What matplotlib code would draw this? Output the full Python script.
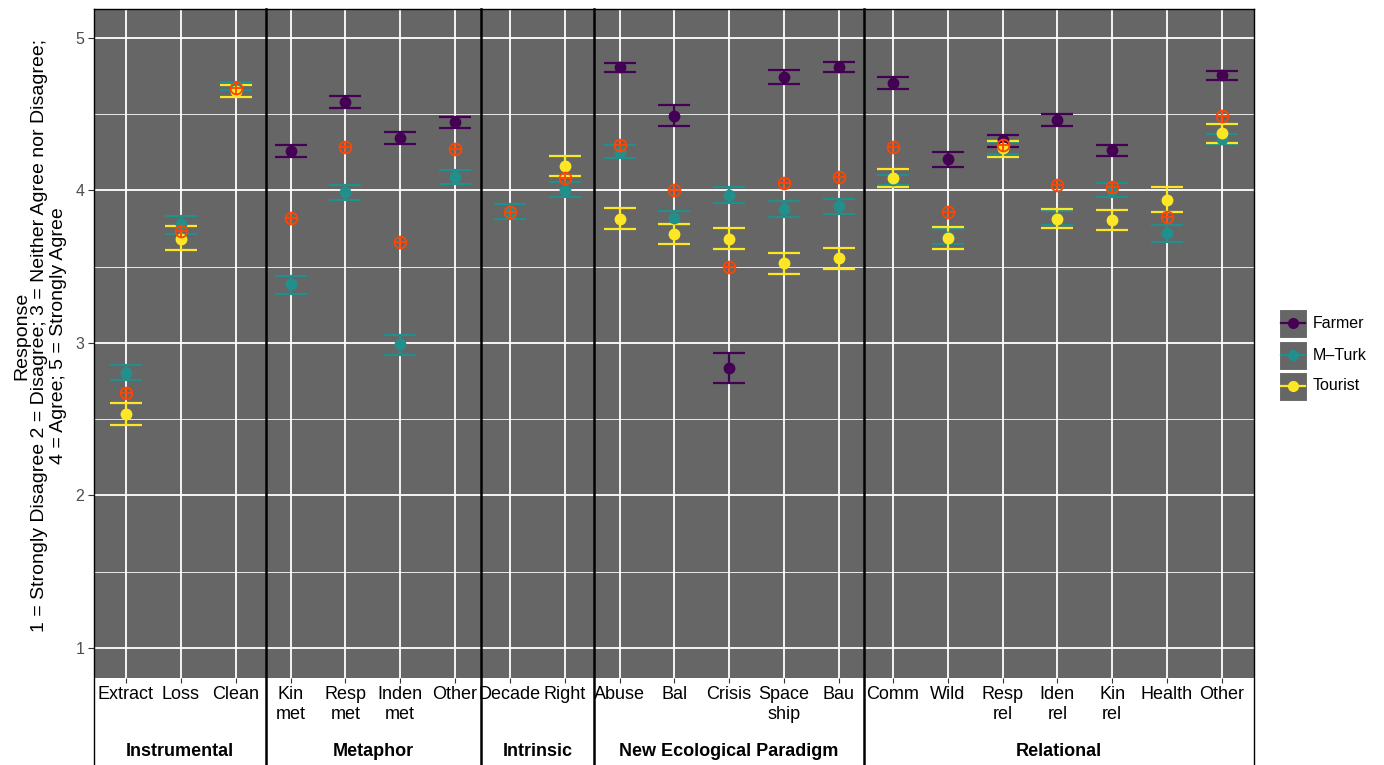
import numpy as np
import matplotlib
matplotlib.use("Agg")
import matplotlib.pyplot as plt
from matplotlib.lines import Line2D
from matplotlib.patches import Rectangle

plt.rcParams['font.family'] = ['Liberation Sans', 'DejaVu Sans']

# ---------------- data ----------------
groups = ["Instrumental", "Metaphor", "Intrinsic", "New Ecological Paradigm", "Relational"]
group_sizes = [3, 4, 2, 5, 7]
categories = ["Extract", "Loss", "Clean",
              "Kin\nmet", "Resp\nmet", "Inden\nmet", "Other",
              "Decade", "Right",
              "Abuse", "Bal", "Crisis", "Space\nship", "Bau",
              "Comm", "Wild", "Resp\nrel", "Iden\nrel", "Kin\nrel", "Health", "Other"]
nan = np.nan
farmer_mean = [nan, nan, nan, 4.260, 4.583, 4.345, 4.448, nan, nan,
               4.809, 4.489, 2.836, 4.744, 4.812,
               4.706, 4.205, 4.330, 4.462, 4.264, nan, 4.756]
farmer_lo = [nan, nan, nan, 4.222, 4.542, 4.304, 4.410, nan, nan,
             4.780, 4.424, 2.736, 4.700, 4.780,
             4.668, 4.157, 4.288, 4.421, 4.225, nan, 4.724]
farmer_hi = [nan, nan, nan, 4.301, 4.618, 4.386, 4.483, nan, nan,
             4.838, 4.559, 2.935, 4.789, 4.841,
             4.742, 4.255, 4.362, 4.504, 4.301, nan, 4.786]
mturk_mean = [2.806, 3.783, 4.680, 3.385, 3.987, 2.991, 4.090, 3.862, 4.004,
              4.254, 3.819, 3.972, 3.881, 3.899,
              4.066, 3.697, 4.280, 3.820, 4.000, 3.718, 4.338]
mturk_lo = [2.759, 3.717, 4.658, 3.323, 3.937, 2.921, 4.043, 3.812, 3.956,
            4.216, 3.775, 3.916, 3.828, 3.846,
            4.035, 3.648, 4.240, 3.775, 3.956, 3.664, 4.303]
mturk_hi = [2.856, 3.831, 4.713, 3.438, 4.034, 3.053, 4.137, 3.913, 4.057,
            4.295, 3.863, 4.022, 3.928, 3.946,
            4.100, 3.747, 4.320, 3.866, 4.046, 3.771, 4.373]
tourist_mean = [2.533, 3.684, 4.651, nan, nan, nan, nan, nan, 4.159,
                3.816, 3.714, 3.684, 3.523, 3.555,
                4.085, 3.688, 4.280, 3.814, 3.806, 3.939, 4.376]
tourist_lo = [2.463, 3.612, 4.616, nan, nan, nan, nan, nan, 4.094,
              3.746, 3.649, 3.614, 3.449, 3.482,
              4.026, 3.616, 4.218, 3.751, 3.740, 3.858, 4.314]
tourist_hi = [2.607, 3.765, 4.691, nan, nan, nan, nan, nan, 4.223,
              3.884, 3.778, 3.755, 3.590, 3.623,
              4.144, 3.760, 4.325, 3.876, 3.873, 4.020, 4.434]
overall_mean = [2.671, 3.732, 4.669, 3.822, 4.283, 3.664, 4.269, 3.862, 4.083,
                4.295, 4.004, 3.496, 4.051, 4.090,
                4.282, 3.862, 4.299, 4.033, 4.022, 3.828, 4.490]
series_names = ["Farmer", "M\u2013Turk", "Tourist"]
series_colors = ["#440154", "#21908C", "#FDE725"]
overall_color = "#FF4500"
y_ticks = [1, 2, 3, 4, 5]
y_label = ("Response\n1 = Strongly Disagree 2 = Disagree; 3 = Neither Agree nor Disagree;\n"
           "4 = Agree; 5 = Strongly Agree")

# ---------------- layout ----------------
W, H = 1384, 765
fig = plt.figure(figsize=(W / 100, H / 100), dpi=100)
fig.patch.set_facecolor("white")

panel_edges_px = [94, 266, 481, 594, 864, 1254]
first_tick_px = [126, 290.5, 510, 619.5, 893]
spacing_px = 54.8
top_px, bot_px = 9, 678
ylim = (0.803, 5.190)
PANEL_BG = "#666666"

series = [
    (farmer_mean, farmer_lo, farmer_hi),
    (mturk_mean, mturk_lo, mturk_hi),
    (tourist_mean, tourist_lo, tourist_hi),
]

start = 0
for gi, (gname, n) in enumerate(zip(groups, group_sizes)):
    l, r = panel_edges_px[gi], panel_edges_px[gi + 1]
    ax = fig.add_axes([l / W, 1 - bot_px / H, (r - l) / W, (bot_px - top_px) / H])
    ax.set_facecolor(PANEL_BG)
    f0 = first_tick_px[gi]
    ax.set_xlim((l - f0) / spacing_px, (r - f0) / spacing_px)
    ax.set_ylim(*ylim)
    xs = np.arange(n)
    sl = slice(start, start + n)

    # grid
    ax.set_yticks(y_ticks)
    ax.set_yticks([1.5, 2.5, 3.5, 4.5], minor=True)
    ax.set_xticks(xs)
    ax.set_xticklabels(categories[sl], fontsize=13, color="black", linespacing=1.25)
    ax.grid(which="major", color="white", linewidth=1.3)
    ax.grid(which="minor", axis="y", color="white", linewidth=0.6)
    ax.set_axisbelow(True)
    ax.tick_params(axis="x", which="both", length=3.5, width=0.8, color="#333333", pad=2)
    ax.tick_params(axis="y", which="minor", length=0)
    if gi == 0:
        ax.set_yticklabels([str(t) for t in y_ticks], fontsize=11.5, color="#4D4D4D")
        ax.tick_params(axis="y", which="major", length=4, width=0.8, color="#333333", pad=3)
    else:
        ax.tick_params(axis="y", which="major", length=0, labelleft=False)
    for s in ["left", "right", "bottom"]:
        ax.spines[s].set_visible(False)
    ax.spines["top"].set_color("black")
    ax.spines["top"].set_linewidth(1.0)

    # series with error bars
    for (m, lo, hi), c in zip(series, series_colors):
        m = np.array(m[sl], float)
        lo = np.array(lo[sl], float)
        hi = np.array(hi[sl], float)
        ok = ~np.isnan(m)
        if not ok.any():
            continue
        ax.errorbar(xs[ok], m[ok], yerr=[m[ok] - lo[ok], hi[ok] - m[ok]],
                    fmt="o", color=c, ms=7.5, elinewidth=1.6, capsize=11.5,
                    capthick=1.6, zorder=3)
    om = np.array(overall_mean[sl], float)
    ax.plot(xs, om, "o", mfc="none", mec=overall_color, ms=8.5, mew=1.3, zorder=4)
    ax.plot(xs, om, "+", color=overall_color, ms=8.5, mew=1.3, zorder=4)

    # strip label
    cx = (l + r) / 2
    fig.text(cx / W, 1 - 752 / H, gname, ha="center", va="center",
             fontsize=13, fontweight="bold")
    start += n

# panel separators running through label area
for i, x in enumerate(panel_edges_px):
    lw = 1.0 if i in (0, len(panel_edges_px) - 1) else 1.8
    fig.add_artist(Line2D([x / W, x / W], [1 - top_px / H, 0], color="black",
                          lw=lw, transform=fig.transFigure))

# y label
fig.text(40 / W, 1 - ((top_px + bot_px) / 2 - 8) / H, y_label, rotation=90,
         ha="center", va="center", multialignment="center", fontsize=14,
         linespacing=1.1)

# legend (manual, ggplot style keys)
leg_y = [323, 355, 386]
for name, c, yy in zip(series_names, series_colors, leg_y):
    fig.add_artist(Rectangle(((1279) / W, 1 - (yy + 14.5) / H), 28 / W, 29 / H,
                             facecolor=PANEL_BG, edgecolor="white", lw=0.8,
                             transform=fig.transFigure))
    fig.add_artist(Line2D([1281 / W, 1305 / W], [1 - yy / H] * 2, color=c, lw=1.6,
                          transform=fig.transFigure))
    fig.add_artist(Line2D([1293 / W], [1 - yy / H], color=c, marker="o", ms=7,
                          transform=fig.transFigure))
    fig.text(1313 / W, 1 - yy / H, name, ha="left", va="center", fontsize=11.5)

fig.savefig("out.png", dpi=100, facecolor="white")
